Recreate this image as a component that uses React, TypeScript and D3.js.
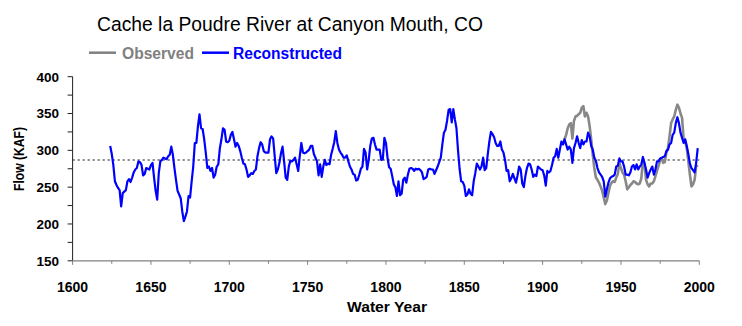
import React from "react";
import * as d3 from "d3";

const reconStart = 1624;
const reconValues = [
  306, 295, 280, 258, 253, 249,
  246, 224, 242, 244, 246, 258, 261, 257, 263, 270,
  274, 276, 285, 284, 280, 266, 268, 276, 275, 274,
  280, 283, 263, 245, 233, 269, 285, 287, 290, 289,
  288, 292, 294, 305, 294, 276, 260, 245, 240, 235,
  217, 204, 210, 217, 238, 236, 258, 278, 310, 310,
  333, 349, 330, 329, 315, 297, 276, 278, 272, 276,
  263, 267, 278, 281, 303, 315, 330, 328, 312, 311,
  313, 321, 325, 315, 305, 310, 306, 299, 290, 282,
  281, 274, 264, 266, 269, 268, 272, 274, 292, 303,
  311, 308, 299, 297, 297, 297, 315, 319, 316, 292,
  269, 274, 283, 296, 305, 285, 263, 260, 278, 286,
  285, 287, 290, 281, 272, 292, 310, 297, 296, 297,
  299, 301, 306, 306, 295, 290, 285, 266, 281, 264,
  278, 287, 280, 282, 281, 294, 302, 311, 326, 310,
  301, 297, 294, 290, 290, 293, 285, 278, 274, 268,
  267, 259, 260, 267, 275, 278, 302, 297, 274, 287,
  306, 316, 317, 308, 301, 301, 301, 287, 288, 317,
  310, 290, 277, 275, 265, 254, 250, 238, 258, 239,
  241, 260, 263, 256, 267, 275, 276, 275, 272, 275,
  274, 275, 273, 270, 261, 262, 264, 274, 275, 274,
  274, 268, 273, 278, 284, 290, 308, 324, 328, 340,
  355, 356, 338, 356, 342, 330, 300, 275, 258, 257,
  252, 238, 240, 247, 241, 239, 258, 269, 282, 278,
  274, 278, 290, 273, 276, 295, 312, 325, 322, 318,
  310, 306, 306, 312, 301, 297, 287, 272, 273, 258,
  262, 268, 262, 256, 266, 278, 274, 255, 250, 265,
  276, 282, 281, 274, 264, 267, 265, 278, 276, 274,
  273, 266, 252, 272, 270, 272, 280, 290, 292, 302,
  290, 301, 312, 308, 315, 308, 301, 305, 301, 283,
  303, 310, 319, 310, 303, 314, 308, 312, 312, 324,
  319, 306, 301, 290, 286, 276, 270, 267, 264, 258,
  237, 247, 256, 262, 264, 265, 267, 278, 279, 289,
  285, 285, 278, 267, 267, 266, 270, 278, 280, 274,
  281, 274, 278, 281, 291, 283, 274, 263, 269, 274,
  278, 267, 274, 285, 285, 289, 290, 291, 292, 299,
  301, 308, 310, 321, 324, 337, 345, 337, 324, 317,
  310, 315, 306, 295, 282, 276, 273, 270, 283, 303,
];

const obsStart = 1913;
const obsValues = [
  308, 315, 321, 330, 335, 337, 316,
  340, 346, 347, 349, 351, 358, 360, 346, 351, 346,
  333, 315, 294, 276, 263, 260, 256, 251, 245, 236,
  227, 232, 242, 252, 256, 258, 257, 263, 268, 283,
  276, 270, 267, 258, 247, 250, 253, 255, 258, 257,
  255, 254, 255, 262, 286, 282, 260, 254, 251, 255,
  255, 258, 265, 272, 279, 286, 289, 283, 284, 297,
  303, 319, 337, 342, 346, 355, 362, 358, 350, 344,
  315, 312, 303, 285, 267, 251, 254, 260, 278, 280,
];

const meanFlow = 287;
const yTickValues = [150, 200, 250, 300, 350, 400];
const xTickValues = [1600, 1650, 1700, 1750, 1800, 1850, 1900, 1950, 2000];

const titleText = "Cache la Poudre River at Canyon Mouth, CO";
const seriesNames = ["Observed", "Reconstructed"];
const xTitle = "Water Year";
const yTitle = "Flow (KAF)";

const FONT = "'Liberation Sans', Arial, Helvetica, sans-serif";

export default function App() {
  const x = d3.scaleLinear().domain([1600, 2000]).range([72.6, 699.3]);
  const y = d3.scaleLinear().domain([150, 400]).range([260.8, 76.7]);

  const recon = reconValues.map((v, i) => ({ yr: reconStart + i, v }));
  const obs = obsValues.map((v, i) => ({ yr: obsStart + i, v }));
  const line = d3
    .line<{ yr: number; v: number }>()
    .x((d) => x(d.yr))
    .y((d) => y(d.v));

  const yMinor = d3.range(150, 401, 25);
  const xMinor = d3.range(1600, 2001, 25);

  const x0 = x(1600);
  const x1 = x(2000);
  const yb = y(150);

  return (
    <svg
      width={742}
      height={326}
      style={{ position: "absolute", left: 0, top: 0, background: "#fff" }}
      fontFamily={FONT}
    >
      <rect width={742} height={326} fill="#fff" />
      <text x={97} y={31} fontSize={19.3} fill="#000" textLength={386} lengthAdjust="spacingAndGlyphs">
        {titleText}
      </text>

      {/* legend */}
      <line x1={89} x2={116} y1={52.7} y2={52.7} stroke="#808080" strokeWidth={2.5} />
      <text x={122} y={59.3} fontSize={16} fontWeight="bold" fill="#808080" textLength={72} lengthAdjust="spacingAndGlyphs">
        {seriesNames[0]}
      </text>
      <line x1={202} x2={229} y1={52.7} y2={52.7} stroke="#0000ff" strokeWidth={2.5} />
      <text x={233} y={59.3} fontSize={15.6} fontWeight="bold" fill="#0000ff" textLength={109} lengthAdjust="spacingAndGlyphs">
        {seriesNames[1]}
      </text>

      {/* mean line */}
      <line
        x1={x0}
        x2={x1}
        y1={y(meanFlow)}
        y2={y(meanFlow)}
        stroke="#8c8c8c"
        strokeWidth={2}
        strokeDasharray="2.2,2.8"
      />

      {/* series */}
      <path d={line(obs) || ""} fill="none" stroke="#888888" strokeWidth={2.6} strokeLinejoin="round" />
      <path d={line(recon) || ""} fill="none" stroke="#0000ff" strokeWidth={2.2} strokeLinejoin="round" />

      {/* y axis */}
      <line x1={x0} x2={x0} y1={y(400)} y2={yb} stroke="#222" strokeWidth={1} />
      {yMinor.map((t) => (
        <line key={"yt" + t} x1={x0 - 5} x2={x0} y1={y(t)} y2={y(t)} stroke="#222" strokeWidth={1} />
      ))}
      {yTickValues.map((t) => (
        <text
          key={"yl" + t}
          x={59}
          y={y(t)}
          dy="0.36em"
          textAnchor="end"
          fontSize={13.5}
          fontWeight="bold"
          fill="#000"
        >
          {t}
        </text>
      ))}

      {/* x axis */}
      <line x1={x0} x2={x1} y1={yb} y2={yb} stroke="#808080" strokeWidth={1.2} />
      {xMinor.map((t) => (
        <line
          key={"xt" + t}
          x1={x(t)}
          x2={x(t)}
          y1={yb}
          y2={yb + (t % 50 === 0 ? 4 : 3)}
          stroke="#808080"
          strokeWidth={1}
        />
      ))}
      {xTickValues.map((t) => (
        <text key={"xl" + t} x={x(t)} y={291.5} textAnchor="middle" fontSize={14} fontWeight="bold" fill="#000">
          {t}
        </text>
      ))}

      <text x={387} y={311.5} textAnchor="middle" fontSize={15} fontWeight="bold" fill="#000" textLength={80} lengthAdjust="spacingAndGlyphs">
        {xTitle}
      </text>
      <text
        transform="translate(24,159) rotate(-90)"
        textAnchor="middle"
        fontSize={14}
        fontWeight="bold"
        fill="#000"
        textLength={64}
        lengthAdjust="spacingAndGlyphs"
      >
        {yTitle}
      </text>
    </svg>
  );
}
